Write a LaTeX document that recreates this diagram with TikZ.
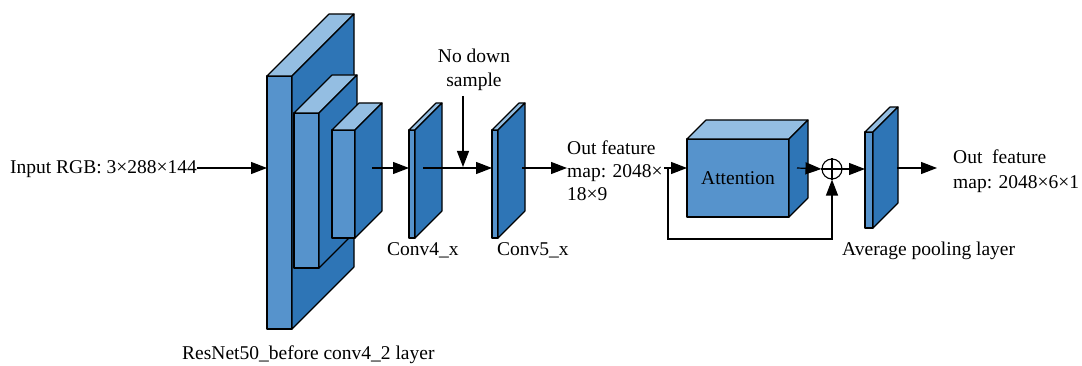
\documentclass[tikz,border=0pt]{standalone}
\usepackage{fontspec}
\setmainfont{Liberation Serif}
\usetikzlibrary{arrows.meta}
\definecolor{topc}{RGB}{148,190,226}
\definecolor{frontc}{RGB}{86,147,204}
\definecolor{sidec}{RGB}{46,117,182}
\tikzset{
  facebox/.style={draw=black, line width=1.1pt, fill=frontc, inner sep=0pt, outer sep=0pt, line join=round},
  facedraw/.style={draw=black, line width=1.1pt, line join=round},
  arr/.style={line width=1.2pt, -{Stealth[length=16pt,width=12pt,inset=0pt]}},
  plainline/.style={line width=1.1pt},
  lbl/.style={inner sep=0pt, font=\fontsize{19.5}{23}\selectfont},
}
\newcommand\mycub[6]{%
  \node[facebox, minimum width=#4pt, minimum height=#5pt] (#1) at (#2,#3) {};
  \draw[facedraw, fill=topc] (#1.north west) -- ++(#6,-#6) -- ++(#4,0) -- (#1.north east) -- cycle;
  \draw[facedraw, fill=sidec] (#1.north east) -- ++(#6,-#6) -- ++(0,#5) -- (#1.south east) -- cycle;
}
\begin{document}
\begin{tikzpicture}[x=1pt,y=-1pt]
\useasboundingbox (0,0) rectangle (1082,366);
% ResNet blocks
\mycub{ra}{279.5}{202.5}{25}{253}{62}
\mycub{rb}{306.5}{190.5}{25}{155}{38}
\mycub{rc}{343.5}{184}{23}{108}{27}
% conv blocks
\mycub{cf}{412}{184}{6}{108}{27}
\mycub{cg}{495}{184}{6}{108}{27}
% attention
\mycub{att}{738}{178}{102}{78}{19}
\node[lbl] (attl) at (att.center) {Attention};
% average pooling
\mycub{ap}{869}{180}{8}{96}{25}
% plus
\node[draw=black, line width=1.1pt, circle, minimum size=20pt, inner sep=0pt] (pl) at (832,169) {};
\draw[plainline] (pl.north) -- (pl.south) (pl.west) -- (pl.east);
% texts
\node[lbl, anchor=west] (inp) at (10,169) {Input RGB: 3×288×144};
\node[lbl, anchor=base west] (resl) at (182,359) {ResNet50\_before conv4\_2 layer};
\node[lbl, anchor=west] (c4l) at (387,250) {Conv4\_x};
\node[lbl, anchor=west] (c5l) at (497,250) {Conv5\_x};
\node[lbl, align=center] (nd) at (474,70) {No down\\[1pt]sample};
\node[lbl, anchor=west, align=left] (of1) at (567,171) {Out feature\\map: 2048×\\18×9};
\node[lbl, anchor=west, align=left, font=\fontsize{19.5}{25}\selectfont] (of2) at (953,171) {Out\ \ feature\\map: 2048×6×1};
\node[lbl, anchor=west] (apl) at (842,251) {Average pooling layer};
% coordinates
\coordinate (o3) at (372,168);
\coordinate (o4) at (423,168);
\coordinate (nds) at (463,96);
\coordinate (ndt) at (463,167);
\coordinate (o5) at (522,168);
\coordinate (of1w) at (567,168);
\coordinate (br) at (668,168);
\coordinate (brs) at (664,168);
\coordinate (lo) at (668,239);
\coordinate (oa) at (797,168);
\coordinate (oap) at (897,168);
\coordinate (fin) at (937,168);
% connectors
\draw[arr] (inp.east |- 0,168) -- (ra.west |- 0,168);
\draw[arr] (o3) -- (cf.west |- o3);
\draw[arr] (o4) -- (cg.west |- o4);
\draw[arr] (nds) -- (ndt);
\draw[arr] (o5) -- (of1w);
\draw[arr] (brs) -- (att.west |- brs);
\draw[arr] (br) -- (lo) -| (pl.south);
\draw[arr] (oa) -- (pl.west);
\draw[arr] (pl.east) -- (ap.west |- pl.east);
\draw[arr] (oap) -- (fin);
\end{tikzpicture}
\end{document}
